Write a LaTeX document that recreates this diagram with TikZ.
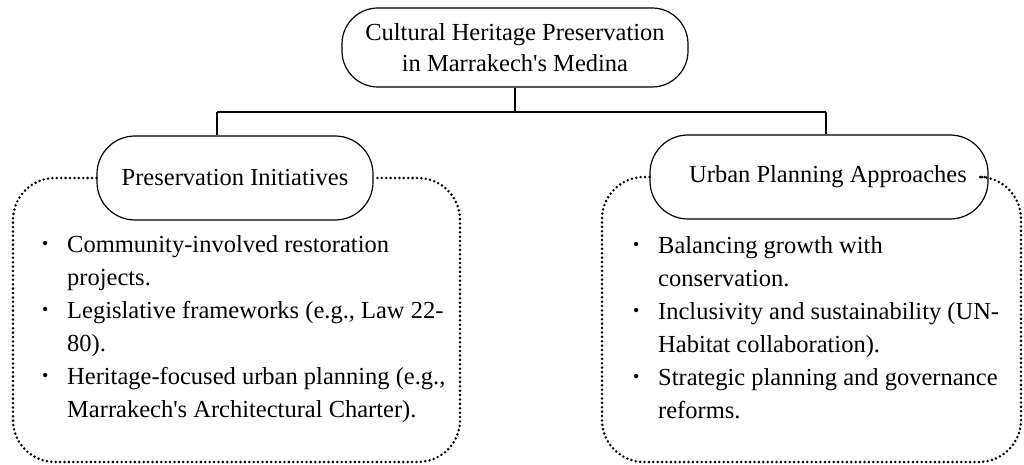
\documentclass[tikz,border=0pt]{standalone}
\usepackage{fontspec}
\setmainfont{Liberation Serif}[Ligatures=TeXOff]
\usetikzlibrary{calc}

% bullet with a fixed-width slot so that wrapped lines align with the text
\newcommand\itemdot{\makebox[27pt][l]{\hspace{2pt}\raisebox{2.5pt}{\fontsize{18}{18}\selectfont\textbullet}}}
\newcommand\itemgap{\hspace*{27pt}}

\begin{document}
\begin{tikzpicture}[x=1pt,y=-1pt,
  headbox/.style={draw,line width=1.2pt,rounded corners=36pt,inner sep=0pt,
    align=center,font=\fontsize{24.5}{31}\selectfont},
  labelbox/.style={draw,line width=1.2pt,rounded corners=38pt,inner sep=0pt,
    minimum height=84pt,font=\fontsize{24.5}{31}\selectfont},
  link/.style={line width=1.2pt},
  dotframe/.style={line width=2.8pt,line cap=round,dash pattern=on 0pt off 4.4pt,
    rounded corners=42pt},
  itemlist/.style={anchor=base west,inner sep=0pt,font=\fontsize{24.5}{33}\selectfont}
]
\useasboundingbox (0,0) rectangle (1024,465);

% title
\node[headbox,minimum width=346pt,minimum height=79pt] (top) at (515,47.5)
  {Cultural Heritage Preservation\\in Marrakech's Medina};

% branch labels
\node[labelbox,minimum width=276pt] (pi) at (235,178) {Preservation Initiatives};
\node[labelbox,minimum width=338pt] (up) at (819,177) {\hspace*{18pt}Urban Planning Approaches};

% tree connectors
\coordinate (jl) at (217,112);
\coordinate (jr) at (826,112);
\draw[link] (top.south) -- (top.south |- jl);
\draw[link] (jl) -- (jr);
\draw[link] (jl) -- (jl |- pi.north);
\draw[link] (jr) -- (jr |- up.north);

% dotted frames around each list
\draw[dotframe] (pi.west) -- (13,178) -- (13,462) -- (460,462) -- (460,178) -- (pi.east);
\draw[dotframe] (up.west) -- (602,177) -- (602,462) -- (1021,462) -- (1021,177) -- (up.east);

% lists
\node[itemlist] (listl) at (40,252) {\begin{tabular}[t]{@{}l@{}}
\itemdot Community-involved restoration\\
\itemgap projects.\\
\itemdot Legislative frameworks (e.g., Law 22-\\
\itemgap 80).\\
\itemdot Heritage-focused urban planning (e.g.,\\
\itemgap Marrakech's Architectural Charter).
\end{tabular}};

\node[itemlist] (listr) at (631,253) {\begin{tabular}[t]{@{}l@{}}
\itemdot Balancing growth with\\
\itemgap conservation.\\
\itemdot Inclusivity and sustainability (UN-\\
\itemgap Habitat collaboration).\\
\itemdot Strategic planning and governance\\
\itemgap reforms.
\end{tabular}};
\end{tikzpicture}
\end{document}
